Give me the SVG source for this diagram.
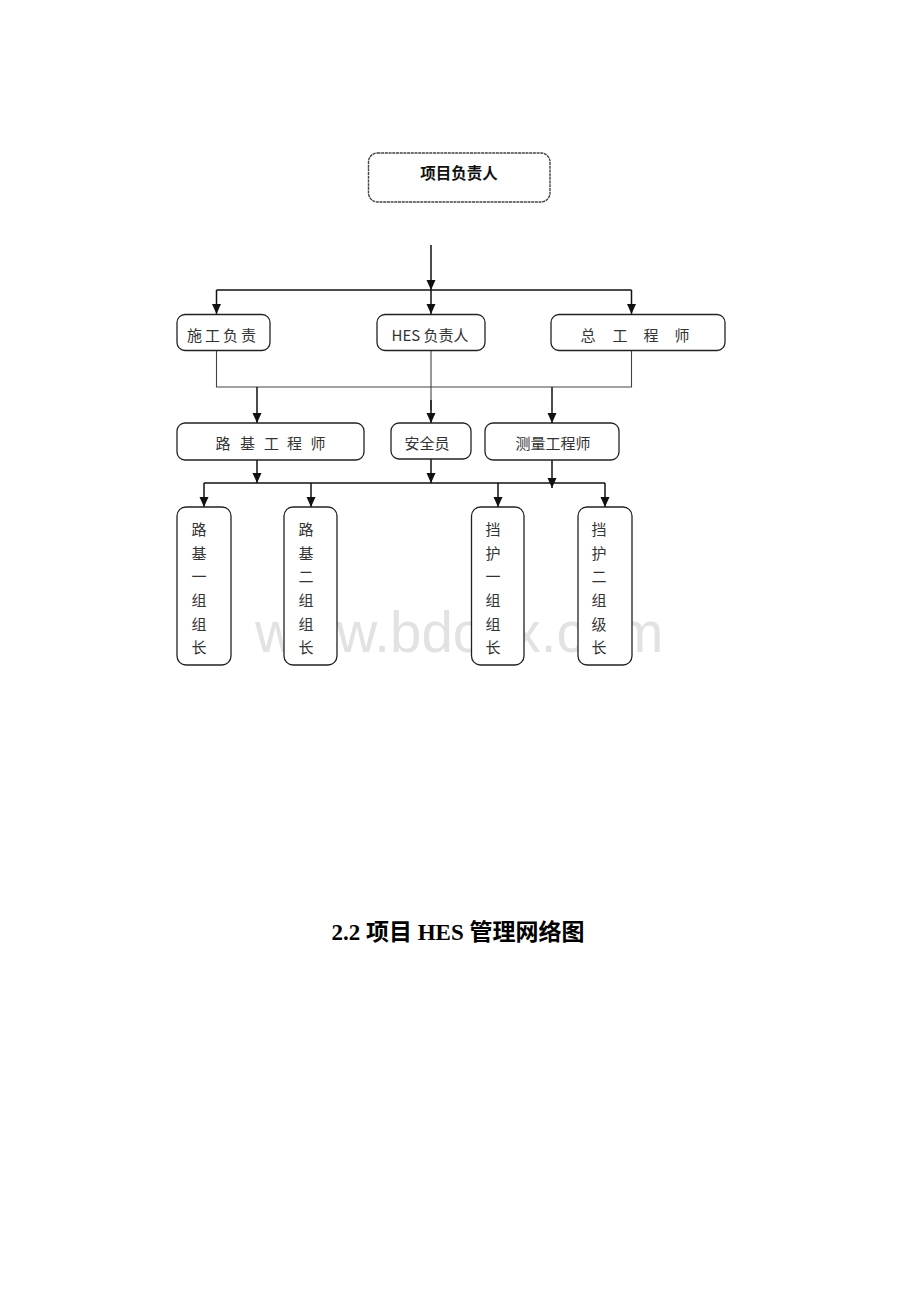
<svg xmlns="http://www.w3.org/2000/svg" width="920" height="1302" viewBox="0 0 920 1302">
<style>
.box{fill:#fff;stroke:#222;stroke-width:1.3}
.top{fill:#fff;stroke:#444;stroke-width:1.4;stroke-dasharray:3 0.7}
.t{font-family:"Noto Sans CJK SC","Liberation Sans",sans-serif;font-size:15px;fill:#333;text-anchor:middle;dominant-baseline:central}
.tb{font-family:"Noto Sans CJK SC","Liberation Sans",sans-serif;font-size:15.5px;font-weight:bold;fill:#111;text-anchor:middle;dominant-baseline:central}
.ln{fill:none;stroke:#111;stroke-width:1.5}
.lg{fill:none;stroke:#444;stroke-width:1.1}
.ar{fill:none;stroke:#111;stroke-width:1.5;marker-end:url(#arr)}
.wm{font-family:"Liberation Sans",Arial,sans-serif;font-size:56.5px;fill:#e2e2e2}
.title{font-family:"Liberation Serif","Noto Sans CJK SC",serif;font-size:23px;font-weight:bold;fill:#000;text-anchor:middle}
</style>
<defs>
<marker id="arr" markerUnits="userSpaceOnUse" markerWidth="10" markerHeight="11" refX="10" refY="5" orient="auto">
<path d="M0,0.5 L10,5 L0,9.5 z" fill="#111"/>
</marker>
</defs>
<rect width="920" height="1302" fill="#fff"/>
<text class="wm" x="255" y="652">www.bdocx.com</text>
<g id="connectors">
<line class="ar" x1="431" y1="245" x2="431" y2="290"/>
<line class="ar" x1="431" y1="290" x2="431" y2="314"/>
<line class="ln" x1="216.5" y1="290" x2="631.5" y2="290"/>
<line class="ar" x1="216.5" y1="290" x2="216.5" y2="314"/>
<line class="ar" x1="631.5" y1="290" x2="631.5" y2="314"/>
<polyline class="lg" points="216.5,351 216.5,387 631.5,387 631.5,351"/>
<line class="lg" x1="431" y1="351" x2="431" y2="410"/>
<line class="ar" x1="431" y1="400" x2="431" y2="423"/>
<line class="ar" x1="257" y1="387" x2="257" y2="423"/>
<line class="ar" x1="552" y1="387" x2="552" y2="423"/>
<line class="ar" x1="257" y1="460" x2="257" y2="483"/>
<line class="ar" x1="431" y1="459" x2="431" y2="483"/>
<line class="ar" x1="552" y1="460" x2="552" y2="488"/>
<line class="ln" x1="204" y1="483" x2="605" y2="483"/>
<line class="ar" x1="204" y1="483" x2="204" y2="507"/>
<line class="ar" x1="311" y1="483" x2="311" y2="507"/>
<line class="ar" x1="498" y1="483" x2="498" y2="507"/>
<line class="ar" x1="605" y1="483" x2="605" y2="507"/>
</g>
<g id="n-top">
<rect class="top" x="368.5" y="153" width="181.5" height="49" rx="9"/>
<text class="tb" x="459" y="172">项目负责人</text>
</g>
<g id="n-sg">
<rect class="box" x="177" y="314.5" width="93" height="36" rx="8"/>
<text class="t" x="223" y="334.5" letter-spacing="3">施工负责</text>
</g>
<g id="n-hes">
<rect class="box" x="377" y="314.5" width="108" height="36" rx="8"/>
<text class="t" x="430" y="334.5">HES 负责人</text>
</g>
<g id="n-zg">
<rect class="box" x="551" y="314.5" width="174" height="36" rx="8"/>
<text class="t" x="588" y="334.5">总</text><text class="t" x="620" y="334.5">工</text><text class="t" x="651" y="334.5">程</text><text class="t" x="682" y="334.5">师</text>
</g>
<g id="n-lj">
<rect class="box" x="177" y="423" width="187" height="37" rx="8"/>
<text class="t" x="223" y="442.5">路</text><text class="t" x="247.5" y="442.5">基</text><text class="t" x="271.5" y="442.5">工</text><text class="t" x="294.5" y="442.5">程</text><text class="t" x="318" y="442.5">师</text>
</g>
<g id="n-aq">
<rect class="box" x="391" y="423" width="80" height="36" rx="8"/>
<text class="t" x="427" y="442.5">安全员</text>
</g>
<g id="n-cl">
<rect class="box" x="485" y="423" width="134" height="37" rx="8"/>
<text class="t" x="553" y="442.5">测量工程师</text>
</g>
<g id="n-lj1">
<rect class="box" x="177" y="507" width="54" height="158" rx="9"/>
<text class="t" x="199" y="528">路</text><text class="t" x="199" y="552">基</text><text class="t" x="199" y="575">一</text><text class="t" x="199" y="599">组</text><text class="t" x="199" y="623">组</text><text class="t" x="199" y="646">长</text>
</g>
<g id="n-lj2">
<rect class="box" x="284" y="507" width="53" height="158" rx="9"/>
<text class="t" x="306" y="528">路</text><text class="t" x="306" y="552">基</text><text class="t" x="306" y="575">二</text><text class="t" x="306" y="599">组</text><text class="t" x="306" y="623">组</text><text class="t" x="306" y="646">长</text>
</g>
<g id="n-dh1">
<rect class="box" x="471.5" y="507" width="52.5" height="158" rx="9"/>
<text class="t" x="493" y="528">挡</text><text class="t" x="493" y="552">护</text><text class="t" x="493" y="575">一</text><text class="t" x="493" y="599">组</text><text class="t" x="493" y="623">组</text><text class="t" x="493" y="646">长</text>
</g>
<g id="n-dh2">
<rect class="box" x="578" y="507" width="54" height="158" rx="9"/>
<text class="t" x="599" y="528">挡</text><text class="t" x="599" y="552">护</text><text class="t" x="599" y="575">二</text><text class="t" x="599" y="599">组</text><text class="t" x="599" y="623">级</text><text class="t" x="599" y="646">长</text>
</g>
<text class="title" x="458" y="940">2.2 项目 HES 管理网络图</text>
</svg>
